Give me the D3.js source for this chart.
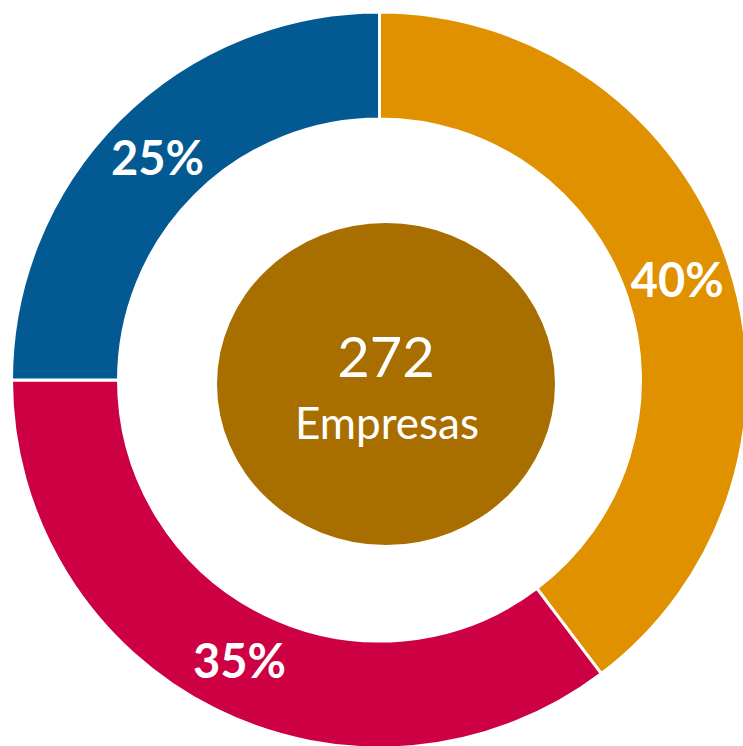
<!DOCTYPE html>
<html>
<head>
<meta charset="utf-8">
<script src="https://cdn.jsdelivr.net/npm/d3@7"></script>
<style>
  body { margin: 0; background: #fff; }
  svg { display: block; }
</style>
</head>
<body>
<script>
// companies per slice (estimated from the angles), clockwise from 12 o'clock
const counts = [108, 96, 68];
const shareLabels = ["40%", "35%", "25%"];
const sliceColours = ["#e09100", "#cc0042", "#035a92"];
const totalValue = "272";
const totalLabel = "Empresas";

let width = 743, height = 746;
let cx = 379.5, cy = 380;
let outerR = 368, innerR = 261;

let svg = d3.select("body").append("svg")
    .attr("width", width)
    .attr("height", height);

let g = svg.append("g").attr("transform", `translate(${cx},${cy})`);

let pie = d3.pie().sort(null).value((d) => d);
let arc = d3.arc().innerRadius(innerR).outerRadius(outerR);
let labelArc = d3.arc().innerRadius(314).outerRadius(314);

let arcs = pie(counts);

g.selectAll("path.slice")
    .data(arcs)
    .join("path")
    .attr("class", "slice")
    .attr("d", arc)
    .attr("fill", (d, i) => sliceColours[i])
    .attr("stroke", "#fff")
    .attr("stroke-width", 3);

g.selectAll("text.pct")
    .data(arcs)
    .join("text")
    .attr("class", "pct")
    .attr("transform", (d) => `translate(${labelArc.centroid(d)})`)
    .attr("text-anchor", "middle")
    .attr("dy", "0.36em")
    .attr("fill", "#fff")
    .style("font-family", "Lato, 'Open Sans', sans-serif")
    .style("font-weight", "bold")
    .style("font-size", "47px")
    .text((d, i) => shareLabels[i]);

// the centre disc is slightly off-centre and a little oval in the original
let hub = svg.append("g").attr("transform", "translate(386,384)");

hub.append("ellipse")
    .attr("rx", 169)
    .attr("ry", 161)
    .attr("fill", "#a86f00");

hub.append("text")
    .attr("x", 0)
    .attr("y", -7)
    .attr("text-anchor", "middle")
    .attr("fill", "#fff")
    .style("font-family", "Lato, 'Open Sans', sans-serif")
    .style("font-size", "56px")
    .text(totalValue);

hub.append("text")
    .attr("x", 1)
    .attr("y", 55)
    .attr("text-anchor", "middle")
    .attr("fill", "#fff")
    .style("font-family", "Lato, 'Open Sans', sans-serif")
    .style("font-size", "44px")
    .text(totalLabel);
</script>
</body>
</html>
